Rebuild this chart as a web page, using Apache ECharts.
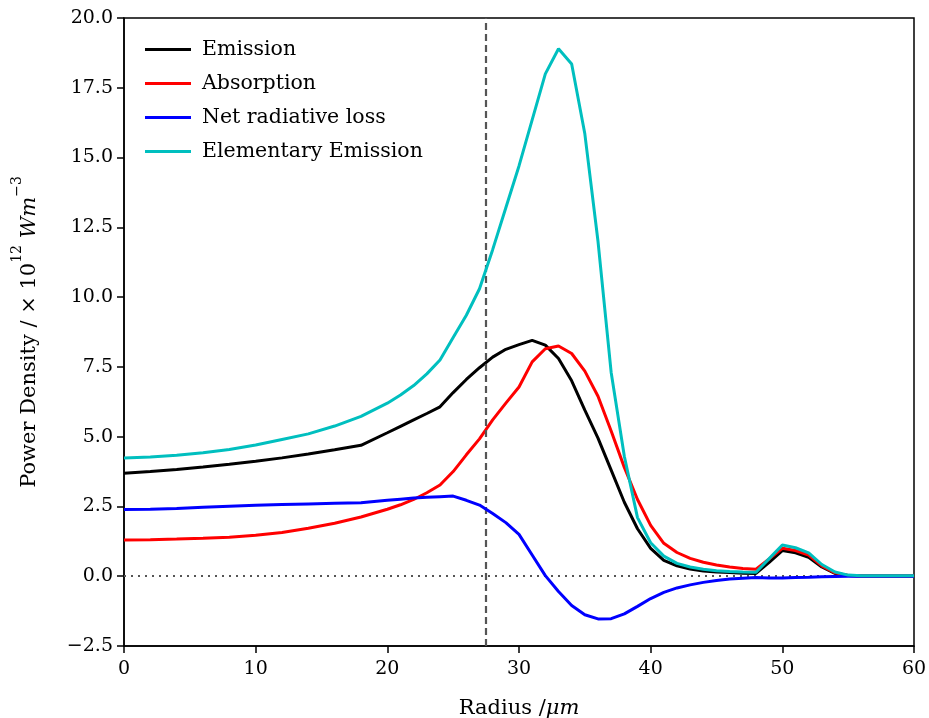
<!DOCTYPE html>
<html>
<head>
<meta charset="utf-8">
<script src="https://cdn.jsdelivr.net/npm/echarts@6/dist/echarts.min.js"></script>
<style>
html,body{margin:0;padding:0;background:#fff;}
#chart{width:929px;height:718px;}
</style>
</head>
<body>
<div id="chart"></div>
<script>
const radius = [0,2,4,6,8,10,12,14,16,18,20,21,22,23,24,25,26,27,28,29,30,31,32,33,34,35,36,37,38,39,40,41,42,43,44,45,46,47,48,49,50,51,52,53,54,55,56,57,58,59,60];
const emission = [3.69,3.75,3.82,3.91,4.01,4.12,4.24,4.38,4.53,4.69,5.14,5.37,5.60,5.83,6.07,6.58,7.05,7.47,7.85,8.13,8.30,8.45,8.28,7.80,7.00,5.95,4.95,3.80,2.65,1.70,1.00,0.57,0.37,0.26,0.19,0.15,0.13,0.11,0.10,0.50,0.92,0.84,0.68,0.33,0.10,0.03,0.01,0.01,0.01,0.01,0.01];
const absorption = [1.30,1.31,1.33,1.36,1.40,1.47,1.57,1.72,1.90,2.12,2.40,2.56,2.75,2.99,3.27,3.75,4.35,4.92,5.60,6.20,6.78,7.68,8.15,8.25,7.98,7.35,6.45,5.20,3.90,2.75,1.82,1.18,0.85,0.64,0.50,0.40,0.33,0.28,0.25,0.62,1.00,0.92,0.76,0.37,0.12,0.03,0.01,0.01,0.01,0.01,0.01];
const netLoss = [2.39,2.40,2.43,2.47,2.51,2.54,2.57,2.59,2.61,2.63,2.72,2.76,2.80,2.83,2.85,2.87,2.72,2.55,2.25,1.92,1.50,0.76,0.02,-0.55,-1.05,-1.38,-1.53,-1.52,-1.35,-1.08,-0.80,-0.58,-0.42,-0.31,-0.22,-0.15,-0.10,-0.07,-0.05,-0.06,-0.06,-0.05,-0.04,-0.02,-0.01,0,0,0,0,0,0];
const elementary = [4.24,4.27,4.33,4.42,4.54,4.70,4.90,5.10,5.38,5.73,6.20,6.49,6.83,7.25,7.75,8.55,9.35,10.30,11.70,13.20,14.70,16.35,18.00,18.90,18.35,15.85,12.00,7.30,4.30,2.10,1.20,0.72,0.46,0.33,0.25,0.20,0.17,0.15,0.14,0.63,1.12,1.02,0.84,0.42,0.15,0.04,0.02,0.02,0.02,0.02,0.02];
const seriesNames = ['Emission','Absorption','Net radiative loss','Elementary Emission'];
const seriesColors = ['#000000','#ff0000','#0000ff','#00bfbf'];
const xTicks = {min:0, max:60, interval:10};
const yTicks = {min:-2.5, max:20, interval:2.5};
const vLineX = 27.5;
const hLineY = 0;

const FONT = 'DejaVu Serif';
const chart = echarts.init(document.getElementById('chart'));
const allData = [emission, absorption, netLoss, elementary];
const series = allData.map((arr, i) => ({
  name: seriesNames[i],
  type: 'line',
  data: radius.map((r, j) => [r, arr[j]]),
  symbol: 'none',
  smooth: false,
  lineStyle: {color: seriesColors[i], width: 3},
  itemStyle: {color: seriesColors[i]},
  z: 3 + i,
  animation: false
}));
series[0].markLine = {
  silent: true, symbol: 'none', animation: false,
  label: {show: false},
  data: [
    {xAxis: vLineX, lineStyle: {color: '#555', width: 2.2, type: [7, 4]}},
    {yAxis: hLineY, lineStyle: {color: '#555', width: 2.2, type: [2, 5]}}
  ]
};

const rectIcon = 'path://M0,0L46,0L46,3L0,3Z';
chart.setOption({
  animation: false,
  grid: {left: 124, right: 15, top: 18, bottom: 72, containLabel: false, outerBoundsMode: 'none',
         show: true, borderColor: '#000', borderWidth: 1.5, backgroundColor: 'transparent'},
  legend: {
    orient: 'vertical', left: 140, top: 34, itemWidth: 46, itemHeight: 3, itemGap: 13,
    data: seriesNames.map(n => ({name: n, icon: rectIcon})),
    textStyle: {fontFamily: FONT, fontSize: 20.5, color: '#000', padding: [0,0,0,6]}
  },
  xAxis: {
    type: 'value', min: xTicks.min, max: xTicks.max, interval: xTicks.interval,
    name: '{n|Radius /}{i|μm}', nameLocation: 'middle', nameGap: 52,
    nameTextStyle: {rich: {n: {fontFamily: FONT, fontSize: 21, color: '#000'}, i: {fontFamily: FONT, fontSize: 21, fontStyle: 'italic', color: '#000'}}},
    axisLine: {show: true, onZero: false, lineStyle: {color: '#000', width: 1.5}},
    axisTick: {show: true, inside: false, length: 7, lineStyle: {color: '#000', width: 1.5}},
    axisLabel: {fontFamily: FONT, fontSize: 19, color: '#000', margin: 14},
    splitLine: {show: false}
  },
  yAxis: {
    type: 'value', min: yTicks.min, max: yTicks.max, interval: yTicks.interval,
    name: '{n|Power Density / × 10}{s|12}{i| Wm}{s|−3}', nameLocation: 'middle', nameGap: 84, nameRotate: 90,
    nameTextStyle: {rich: {
      n: {fontFamily: FONT, fontSize: 21, color: '#000', lineHeight: 30, verticalAlign: 'bottom'},
      s: {fontFamily: FONT, fontSize: 14, color: '#000', lineHeight: 15, verticalAlign: 'top'},
      i: {fontFamily: FONT, fontSize: 21, fontStyle: 'italic', color: '#000', lineHeight: 30, verticalAlign: 'bottom'}}},
    axisLine: {show: true, onZero: false, lineStyle: {color: '#000', width: 1.5}},
    axisTick: {show: true, inside: false, length: 7, lineStyle: {color: '#000', width: 1.5}},
    axisLabel: {fontFamily: FONT, fontSize: 19, color: '#000', margin: 11,
      formatter: v => v.toFixed(1).replace('-', '\u2212')},
    splitLine: {show: false}
  },
  series: series
});
</script>
</body>
</html>
